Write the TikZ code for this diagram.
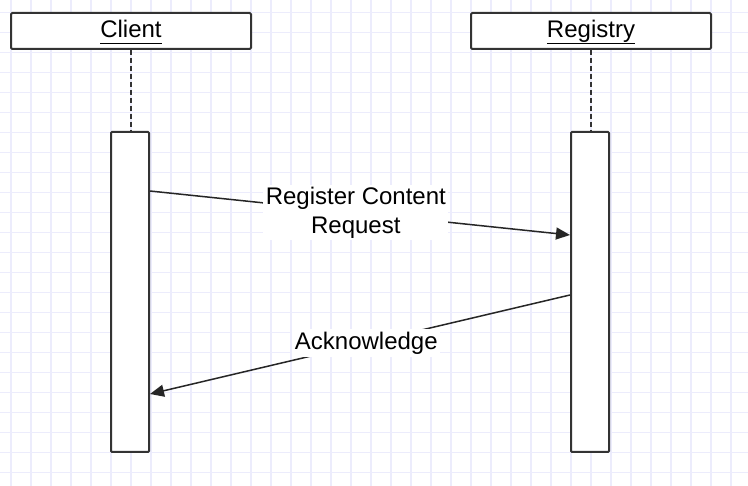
\documentclass[tikz,border=0pt]{standalone}
\usepackage{fontspec}
\setmainfont{Liberation Sans}
\usetikzlibrary{
    arrows.meta,
    positioning,
    calc
}
\definecolor{gridlav}{RGB}{236,236,252}
\definecolor{linegrey}{RGB}{51,51,51}
\newcommand{\objname}[1]{\underline{#1\vphantom{gy}}}
\tikzset{
    % Background
    paper grid/.style={line width=1.5pt, color=gridlav},
    %
    % Objects and lifelines
    object box/.style={draw=linegrey,line width=2pt,fill=white,rounded corners=1.2pt,
        minimum width=240pt,minimum height=36pt,inner sep=0pt,text height=18pt,text depth=5.4pt},
    lifeline/.style={linegrey,line width=1.8pt,dash pattern=on 5pt off 3pt},
    activation/.style={draw=linegrey,line width=2pt,fill=white,rounded corners=1pt,
        minimum width=38pt,minimum height=320pt,inner sep=0pt},
    %
    % Messages
    arrow tip/.tip={Triangle[length=14pt,width=12pt]},
    msg/.style={-{arrow tip},line width=1.5pt,color=black!85},
    msg label/.style={fill=white,text=black,align=center,inner sep=2.5pt}
}
\tikzstyle{every node}=[font=\fontsize{24}{28.5}\selectfont]

\begin{document}
\begin{tikzpicture}[x=1pt,y=-1pt]
        \fill[white] (0,0) rectangle (748,486);
        \useasboundingbox (0,0) rectangle (748,486);
        \foreach \x in {11,31,...,731}{
            \draw[paper grid] (\x,0) -- (\x,486);
        }
        \foreach \y in {12.7,32.7,...,480}{
            \draw[paper grid] (0,\y) -- (748,\y);
        }
        % the two objects
        \node[object box] (client) at (131,31) {\objname{Client}};
        \node[object box] (registry) at (591,31) {\objname{Registry}};
        \node[activation] (clientbar) at (130,292) {};
        \node[activation] (registrybar) at (590,292) {};
        \draw[lifeline] (client.south) -- (client.south |- clientbar.north);
        \draw[lifeline] (registry.south) -- (registry.south |- registrybar.north);
        % messages
        \draw[msg] ($(clientbar.north east)+(0,60)$) -- ($(registrybar.north west)+(0,104)$)
            node[msg label,pos=.49] (reqlabel) {Register Content\\Request};
        \draw[msg] ($(registrybar.north west)+(0,164)$) -- ($(clientbar.north east)+(0,263)$)
            node[msg label,pos=.485] (acklabel) {Acknowledge};
    \end{tikzpicture}
\end{document}
